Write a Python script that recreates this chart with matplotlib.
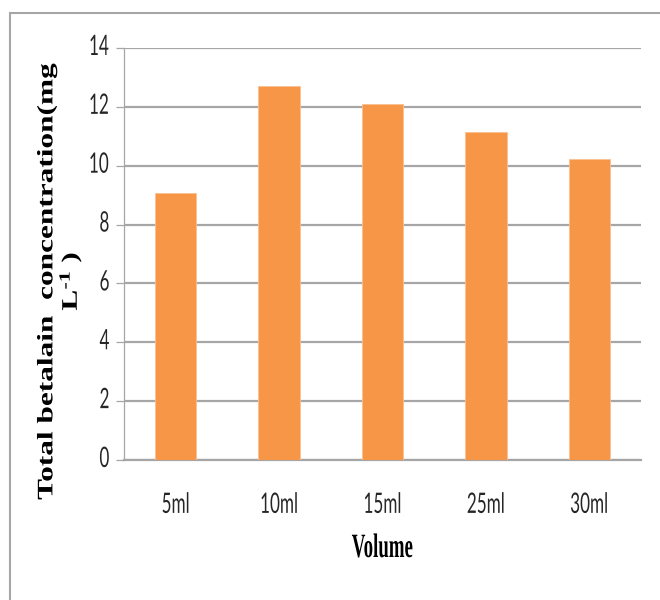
import matplotlib
matplotlib.use("Agg")
import matplotlib.pyplot as plt
from matplotlib.patches import Rectangle
from matplotlib.patheffects import AbstractPathEffect
from matplotlib.transforms import Affine2D

categories = ["5ml", "10ml", "15ml", "25ml", "30ml"]
values = [9.07, 12.72, 12.10, 11.14, 10.24]
yticks = [0, 2, 4, 6, 8, 10, 12, 14]


class Stretch(AbstractPathEffect):
    """Scale each text line's glyphs about its horizontal centre and baseline."""

    def __init__(self, sx=1.0, sy=1.0):
        super().__init__()
        self.sx, self.sy = sx, sy

    def draw_path(self, renderer, gc, tpath, affine, rgbFace=None):
        ext = tpath.get_extents()
        cx = 0.5 * (ext.x0 + ext.x1)
        pre = Affine2D().translate(-cx, 0).scale(self.sx, self.sy).translate(cx, 0)
        renderer.draw_path(gc, tpath, pre + affine, rgbFace)


plt.rcParams["mathtext.fontset"] = "custom"
plt.rcParams["mathtext.rm"] = "Liberation Serif:bold"
plt.rcParams["mathtext.default"] = "rm"

W, H = 660, 600
fig = plt.figure(figsize=(W / 100, H / 100), dpi=100)
fig.patch.set_facecolor("white")

# outer chart frame
fig.patches.append(Rectangle((10 / W, -0.1), 1.2, (H - 13) / H + 0.1,
                             transform=fig.transFigure, fill=False,
                             edgecolor="#a6a6a6", linewidth=1.5))

ax = fig.add_axes([124 / W, (H - 460) / H, (641 - 124) / W, (460 - 48) / H])
x = range(len(categories))
ax.bar(x, values, width=0.4, color="#F79646", edgecolor="#FAC090", linewidth=0.6, zorder=3)

ax.set_xlim(-0.5, len(categories) - 0.5)
ax.set_ylim(0, 14)
ax.set_yticks(yticks)
ax.set_xticks(list(x))
ax.set_xticklabels(categories)
ax.yaxis.grid(True, color="#a6a6a6", linewidth=1.6, zorder=0)
ax.set_axisbelow(True)

for s in ["top", "right"]:
    ax.spines[s].set_visible(False)
ax.spines["left"].set_color("#a6a6a6")
ax.spines["left"].set_linewidth(0.9)
ax.spines["bottom"].set_color("#a6a6a6")
ax.spines["bottom"].set_linewidth(1.6)
ax.tick_params(axis="y", length=6, width=0.9, color="#a6a6a6", pad=4)
ax.tick_params(axis="x", length=0, pad=28)

for lab in ax.get_yticklabels() + ax.get_xticklabels():
    lab.set_family("Lato")
    lab.set_fontsize(14)
    lab.set_color("#262626")
    lab.set_path_effects([Stretch(0.88, 1.45)])

xl = ax.set_xlabel("Volume", family="Liberation Serif", fontweight="bold",
                   fontsize=14, va="baseline")
ax.xaxis.set_label_coords(0.5, (460 - 557) / 412)
xl.set_path_effects([Stretch(0.97, 1.75)])

yl = fig.text(61 / W, 1 - 281 / H, "Total betalain  concentration(mg\nL$^{\\text{-}1}$ )",
              family="Liberation Serif", fontweight="bold", fontsize=16,
              rotation=90, rotation_mode="anchor", ha="center", va="center",
              multialignment="center", linespacing=1.0)
yl.set_path_effects([Stretch(1.41, 1.0)])

fig.savefig("out.png", dpi=100, facecolor="white")
